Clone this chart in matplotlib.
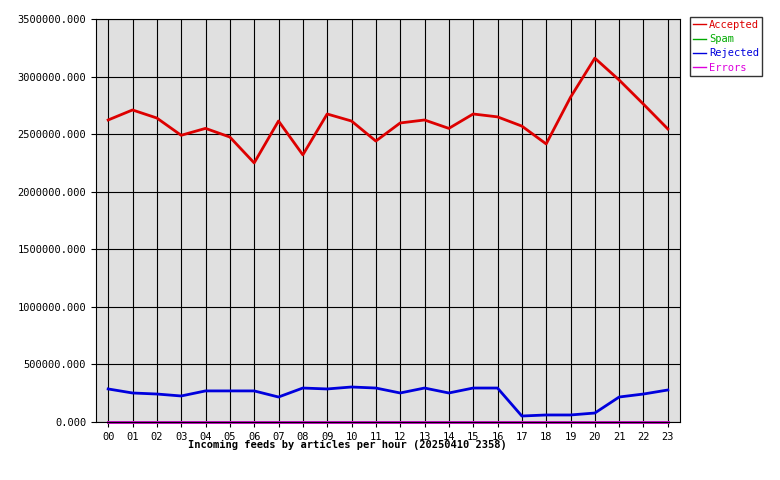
import matplotlib.pyplot as plt
from matplotlib.ticker import FuncFormatter

hours = ['%02d' % h for h in range(24)]
accepted = [2623000, 2710000, 2640000, 2490000, 2550000, 2475000, 2250000, 2614000,
            2320000, 2675000, 2614000, 2440000, 2597000, 2623000, 2550000, 2675000,
            2650000, 2570000, 2415000, 2820000, 3160000, 2970000, 2760000, 2545000]
spam = [0] * 24
rejected = [287000, 252000, 243000, 226000, 270000, 270000, 270000, 217000,
            295000, 287000, 304000, 295000, 252000, 295000, 252000, 295000,
            295000, 52000, 61000, 61000, 78000, 217000, 243000, 278000]
errors = [2000] * 24

plt.rcParams['font.family'] = 'DejaVu Sans Mono'
plt.rcParams['font.size'] = 7.5

fig = plt.figure(figsize=(7.8, 4.8), dpi=100)
ax = fig.add_axes([96 / 780, 58 / 480, 584 / 780, 403 / 480])
ax.set_facecolor('#e0e0e0')
x = list(range(24))
ax.plot(x, accepted, color='#dd0000', lw=2, label='Accepted')
ax.plot(x, spam, color='#00aa00', lw=2, label='Spam', clip_on=False)
ax.plot(x, rejected, color='#0000dd', lw=2, label='Rejected')
ax.plot(x, errors, color='#dd00dd', lw=2, label='Errors', clip_on=False)

ax.set_xlim(-0.5, 23.5)
ax.set_ylim(0, 3500000)
ax.set_xticks(x)
ax.set_xticklabels(hours)
ax.set_yticks(range(0, 3500001, 500000))
ax.yaxis.set_major_formatter(FuncFormatter(lambda v, p: '%.3f' % v))
ax.grid(True, color='black', lw=0.8)
ax.set_axisbelow(True)
for s in ax.spines.values():
    s.set_color('black')
ax.set_xlabel('Incoming feeds by articles per hour (20250410 2358)',
              fontweight='bold', labelpad=2)
ax.xaxis.set_label_coords(0.43, -0.045)

leg = fig.legend(loc='upper left', bbox_to_anchor=(690 / 780, 1 - 17 / 480),
                 frameon=True, fancybox=False, edgecolor='black', fontsize=7.5,
                 handlelength=1.2, handletextpad=0.3, borderpad=0.3,
                 labelspacing=0.4, borderaxespad=0)
for line, text in zip(leg.get_lines(), leg.get_texts()):
    line.set_linewidth(1)
    text.set_color(line.get_color())

fig.savefig('out.png', dpi=100)
